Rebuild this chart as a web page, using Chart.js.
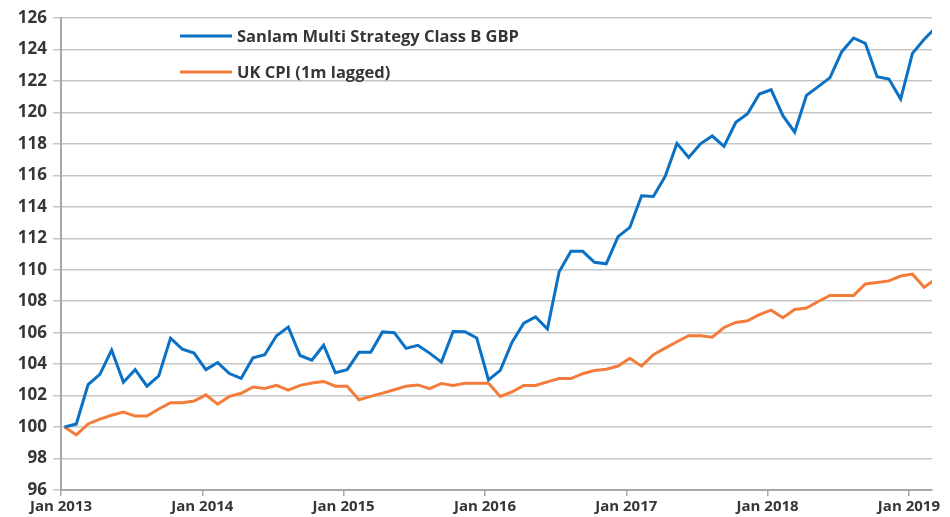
<!DOCTYPE html>
<html>
<head>
<meta charset="utf-8">
<script src="https://cdn.jsdelivr.net/npm/chart.js@4/dist/chart.umd.min.js"></script>
<style>
  html, body { margin: 0; padding: 0; background: #fff; }
  #wrap { position: relative; width: 950px; height: 517px; }
</style>
</head>
<body>
<div id="wrap"><canvas id="chart"></canvas></div>
<script>
// Monthly index values, Jan 2013 = 100 (last point runs past the right edge)
const fundValues = [
  100.0, 100.2, 102.7, 103.35, 104.9, 102.85, 103.65, 102.6, 103.25, 105.65, 104.95, 104.7,
  103.65, 104.1, 103.4, 103.1, 104.4, 104.6, 105.8, 106.35, 104.55, 104.25, 105.2, 103.45,
  103.65, 104.75, 104.75, 106.05, 106.0, 105.0, 105.2, 104.7, 104.13, 106.07, 106.06, 105.66,
  103.0, 103.6, 105.4, 106.6, 107.0, 106.23, 109.87, 111.17, 111.17, 110.47, 110.38, 112.1,
  112.69, 114.7, 114.66, 115.93, 118.03, 117.14, 118.0, 118.5, 117.84, 119.37, 119.92, 121.17,
  121.44, 119.79, 118.74, 121.08, 121.64, 122.21, 123.86, 124.73, 124.39, 122.27, 122.12, 120.85,
  123.75, 124.65, 125.4
];
const cpiValues = [
  100.0, 99.5, 100.2, 100.5, 100.75, 100.95, 100.7, 100.7, 101.15, 101.55, 101.55, 101.65,
  102.05, 101.45, 101.95, 102.15, 102.55, 102.45, 102.65, 102.35, 102.65, 102.8, 102.9, 102.6,
  102.6, 101.74, 101.95, 102.16, 102.37, 102.6, 102.68, 102.44, 102.77, 102.65, 102.78, 102.78,
  102.78, 101.95, 102.24, 102.64, 102.64, 102.87, 103.08, 103.08, 103.39, 103.59, 103.68, 103.88,
  104.37, 103.87, 104.6, 105.02, 105.42, 105.81, 105.81, 105.71, 106.33, 106.65, 106.76, 107.15,
  107.43, 106.95, 107.47, 107.57, 107.98, 108.37, 108.37, 108.37, 109.1, 109.19, 109.29, 109.6,
  109.72, 108.88, 109.43
];
const seriesNames = ["Sanlam Multi Strategy Class B GBP", "UK CPI (1m lagged)"];
const xTickLabels = ["Jan 2013", "Jan 2014", "Jan 2015", "Jan 2016", "Jan 2017", "Jan 2018", "Jan 2019"];

const blue = "#0a71c4";
const orange = "#f37c3b";
const textColor = "#363636";
const gridColor = "#c6c6c6";
const fontFamily = "'Open Sans', Lato, sans-serif";

const toPoints = (values) => values.map((v, i) => ({ x: i, y: v }));

// Legend sits inside the plot area, top-left, stacked
const insideLegend = {
  id: "insideLegend",
  afterDraw(chart) {
    const ctx = chart.ctx;
    const area = chart.chartArea;
    const x0 = area.left + 119;
    const rows = [area.top + 18, area.top + 54];
    ctx.save();
    chart.data.datasets.forEach((ds, i) => {
      const y = rows[i];
      ctx.strokeStyle = ds.borderColor;
      ctx.lineWidth = 3;
      ctx.beginPath();
      ctx.moveTo(x0, y);
      ctx.lineTo(x0 + 52, y);
      ctx.stroke();
      ctx.fillStyle = textColor;
      ctx.font = "bold 16.5px " + fontFamily;
      ctx.textBaseline = "middle";
      ctx.textAlign = "left";
      ctx.fillText(ds.label, x0 + 57, y + 1);
    });
    ctx.restore();
  },
};

new Chart(document.getElementById("chart"), {
  type: "line",
  data: {
    datasets: [
      {
        label: seriesNames[0],
        data: toPoints(fundValues),
        borderColor: blue,
        backgroundColor: blue,
      },
      {
        label: seriesNames[1],
        data: toPoints(cpiValues),
        borderColor: orange,
        backgroundColor: orange,
      },
    ],
  },
  options: {
    responsive: true,
    maintainAspectRatio: false,
    animation: false,
    datasets: {
      line: {
        borderWidth: 3,
        pointRadius: 0,
        tension: 0,
        clip: 0,
      },
    },
    layout: { padding: { top: 18, right: 18, left: 0, bottom: 0 } },
    plugins: {
      legend: { display: false },
      tooltip: { enabled: false },
    },
    scales: {
      x: {
        type: "linear",
        min: -0.3,
        max: 73.66,
        afterBuildTicks: (scale) => {
          scale.ticks = xTickLabels.map((_, k) => ({ value: 12 * k - 0.3 }));
        },
        afterFit: (scale) => {
          scale.height = 27;
        },
        ticks: {
          autoSkip: false,
          maxRotation: 0,
          padding: 2,
          color: textColor,
          font: { family: fontFamily, size: 15, weight: "bold" },
          callback: (value, index) => xTickLabels[index],
        },
        grid: {
          drawOnChartArea: false,
          drawTicks: true,
          tickLength: 6,
          color: "#a8a8a8",
          lineWidth: 1.5,
        },
        border: { color: "#a8a8a8", width: 2 },
      },
      y: {
        min: 96,
        max: 126,
        afterFit: (scale) => {
          scale.width = 61;
        },
        ticks: {
          stepSize: 2,
          padding: 6,
          color: textColor,
          font: { family: fontFamily, size: 17, weight: "bold" },
        },
        grid: {
          color: gridColor,
          lineWidth: 1.5,
          tickLength: 8,
        },
        border: { color: "#a8a8a8", width: 2 },
      },
    },
  },
  plugins: [insideLegend],
});
</script>
</body>
</html>
